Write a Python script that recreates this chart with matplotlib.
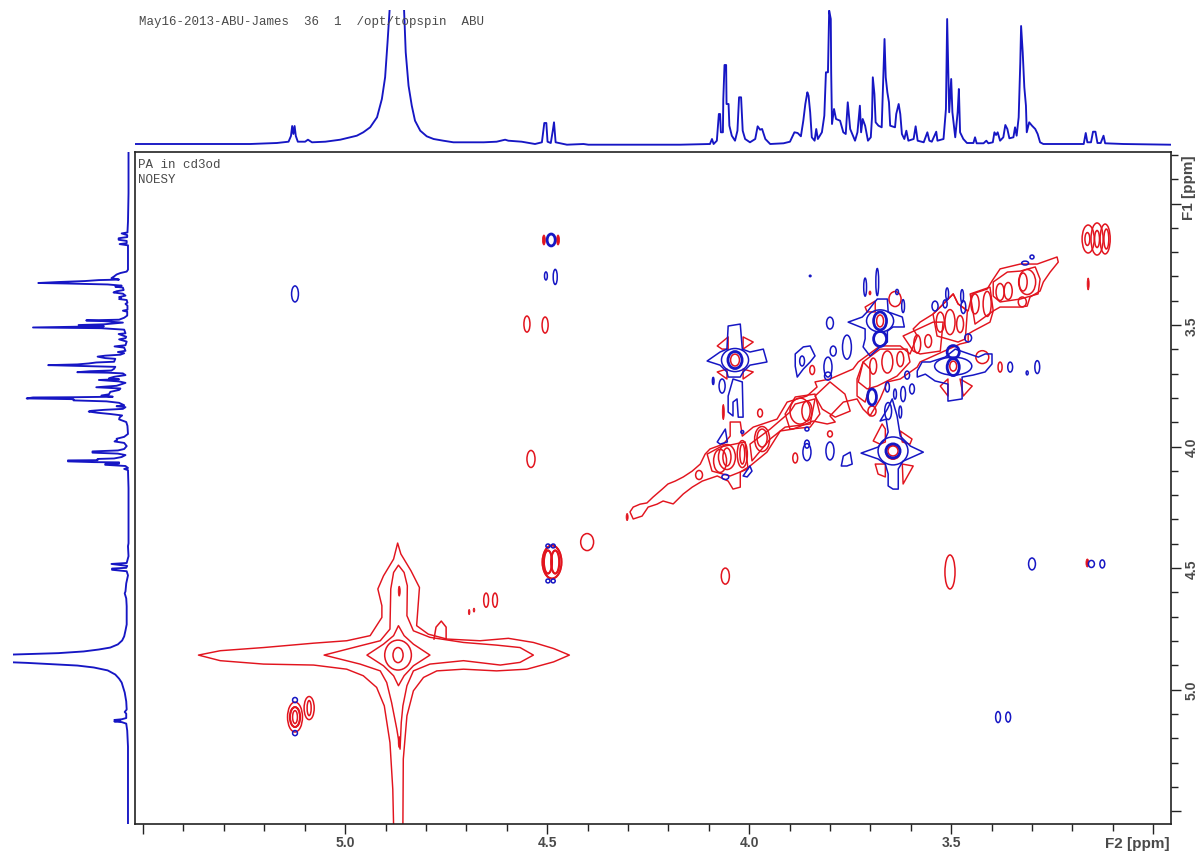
import matplotlib
matplotlib.use("Agg")
import matplotlib.pyplot as plt
from matplotlib.patches import Ellipse, Polygon
from matplotlib.ticker import FixedLocator

RED = "#e2141e"
BLUE = "#1616c4"
GREY = "#4a4a4a"

# ---- 1D projection (ppm, intensity) ----
spec_ppm = [5.56,5.520,5.235,5.169,5.140,5.134,5.131,5.128,5.125,5.122,5.117,5.099,5.092,5.082,5.049,5.012,4.971,4.955,4.938,4.921,4.909,4.901,4.895,4.890,4.870,4.854,4.850,4.843,4.835,4.827,4.814,4.798,4.781,4.757,4.732,4.657,4.625,4.604,4.596,4.563,4.530,4.513,4.507,4.502,4.499,4.491,4.486,4.483,4.479,4.451,4.410,4.398,4.245,
 4.171,4.097,4.092,4.088,4.080,4.075,4.072,4.070,4.065,4.064,4.061,4.057,4.056,4.051,4.049,4.043,4.035,4.029,4.025,4.020,4.016,4.010,3.998,3.985,3.979,3.973,3.968,3.960,3.948,3.915,3.899,3.888,3.880,3.872,3.866,3.861,3.856,3.853,3.849,3.845,3.838,3.834,3.830,3.820,3.814,3.810,3.805,3.802,3.798,3.797,3.795,3.790,3.785,3.775,3.767,3.761,3.756,3.750,3.738,3.732,3.726,3.723,3.719,3.713,3.706,3.699,3.696,3.694,3.690,3.687,3.680,3.672,3.668,3.665,3.662,3.658,3.654,3.651,3.639,3.636,3.630,3.626,3.622,3.616,3.611,3.606,3.593,3.588,3.583,3.568,3.559,3.554,3.548,3.537,3.534,3.519,3.513,3.510,3.505,3.500,3.497,3.490,3.484,3.481,3.478,3.470,3.461,3.445,3.441,3.437,3.420,3.413,3.408,3.397,3.393,3.389,3.385,3.379,3.371,3.366,3.361,3.356,3.346,3.342,3.338,3.333,3.329,3.327,3.323,3.319,3.315,3.313,3.307,3.300,3.292,3.286,3.280,3.272,3.172,3.167,3.163,3.154,3.149,3.143,3.138,3.130,3.123,3.119,3.074,2.958,2.78]
spec_int = [0,0,0,1,2.3,8,18,10,18,8,2.3,2.3,4.3,1.7,2.3,4.3,8.3,11.7,16.7,26.7,45,66.7,101.7,133.3,300,133.3,91.7,58.3,38.3,23.3,13.3,7.7,5,3.3,1.7,1.7,2.3,4.3,3.3,2.3,0,1.7,21,21,2.3,1,13.3,21.7,1.7,-0.7,0,-0.7,-0.7,
 -0.7,0,5,0,3.3,30,30,11.7,11.7,45,79,79,40,40,18.3,8.3,3.3,13.3,46.7,46.7,13.3,5,1.7,5,17.7,14.3,15,5,0,0.7,2.3,11.7,11,7.7,23.3,40,51.7,48.3,31.7,6.7,3.3,15,5,11.7,28.3,71.7,71.7,133.3,125,71.7,20,35,25,23.3,11.7,10,41.7,15,3.3,11.7,38.3,11.7,25,18.3,3.3,6.7,26.7,66.7,50,21.7,18.3,16.7,66.7,105,66.7,51.7,41.7,18.3,16.7,30,40,30,10,5,13.3,3.3,5,17.7,3.3,1.7,11.7,3.3,2.3,12.3,3.3,5,35,125,31.7,65,31.7,6.7,31.7,55,11.7,5,1,1,6.7,0.7,0.7,3.3,0.7,1.7,11.7,9,11.7,3.3,6.7,19,15,5.7,6.7,16.7,8.3,26.7,81.7,118,91.7,56.7,38.3,11.7,21.7,18.3,15,10,1.7,0,0,11,1.7,1.7,12.3,12.3,1,1,8.3,0.7,0,-0.7,-0.7]

# ---- red cross peaks: F2, F1, width, height (ppm) ----
red_f2 = [4.072,4.055,4.055,4.017,4.017,3.968,3.968,4.124,3.973,3.886,3.857,3.874,3.800,3.844,3.658,3.626,3.693,3.584,3.557,3.503,3.478,3.527,3.411,3.441,3.379,3.359,3.322,3.312,3.324,3.161,3.139,3.119,3.163,3.139,3.116,4.550,4.505,4.540,4.401,4.488,4.498,4.480,4.651,4.629,4.059,3.503,5.124,5.124,5.124,5.089,5.089,4.869,4.869,3.379,3.423,3.495,3.644,3.644,4.035,3.676,3.639,3.696]
red_f1 = [4.059,4.043,4.043,4.031,4.031,3.969,3.965,4.117,3.862,4.047,3.854,3.854,3.948,3.685,3.652,3.640,3.669,3.578,3.566,3.488,3.496,3.488,3.413,3.413,3.364,3.360,3.323,3.323,3.405,3.146,3.146,3.146,3.146,3.146,3.146,3.496,3.500,4.051,4.393,4.475,4.475,4.475,4.632,4.632,4.533,4.516,5.113,5.113,5.113,5.076,5.076,4.858,4.858,3.673,3.632,3.669,4.023,4.018,3.644,3.483,3.393,3.854]
red_w = [.032,.042,.020,.025,.012,.037,.025,.017,.012,.012,.025,.050,.012,.012,.027,.017,.017,.017,.017,.025,.017,.020,.020,.020,.020,.020,.020,.042,.020,.030,.030,.025,.012,.012,.012,.015,.015,.020,.032,.047,.020,.020,.012,.012,.020,.025,.037,.025,.012,.025,.010,.066,.025,.010,.032,.017,.035,.025,.022,.017,.030,.020]
red_h = [.095,.103,.074,.111,.082,.103,.074,.037,.033,.041,.082,.107,.025,.037,.091,.062,.066,.074,.053,.103,.070,.082,.103,.082,.070,.070,.074,.103,.041,.115,.132,.123,.053,.070,.082,.066,.066,.070,.070,.136,.095,.095,.058,.058,.066,.140,.123,.082,.053,.095,.062,.123,.062,.041,.053,.041,.058,.041,.049,.049,.062,.041]

# ---- strong red rings ----
strong_f2 = [5.124,4.498,4.480,4.488]
strong_f1 = [5.113,4.475,4.475,4.475]
strong_w = [.025,.020,.020,.047]
strong_h = [.082,.095,.095,.136]

# ---- small solid red marks ----
dot_f2 = [3.161,4.064,4.302,4.693,4.681,4.508,4.473,3.163,4.866,4.866,3.701]
dot_f1 = [3.331,3.858,4.290,4.681,4.673,3.150,3.150,4.479,4.595,5.216,3.368]
dot_w = [.005,.005,.005,.004,.004,.007,.007,.007,.005,.005,.005]
dot_h = [.049,.062,.029,.021,.016,.041,.041,.033,.041,.045,.016]

# ---- blue cross peaks ----
blue_f2 = [5.124,4.503,4.480,4.498,4.485,4.498,4.485,5.124,5.124,3.384,3.359,3.300,3.153,3.126,3.317,3.300,3.354,3.287,3.312,3.510,3.473,3.540,3.515,3.470,3.458,3.683,3.713,3.634,3.619,3.800,3.849,3.869,3.805,3.805,3.758,3.792,3.639,3.619,3.597,3.658,3.609,3.656,3.626,3.857,3.857,3.800,3.857,4.067,4.089,4.059,4.017,4.035,3.644,3.676,3.495]
blue_f1 = [3.372,3.298,3.302,4.409,4.409,4.553,4.553,5.043,5.179,5.113,5.113,4.483,4.483,4.483,3.245,3.220,3.673,3.673,3.697,3.372,3.381,3.422,3.413,3.426,3.553,3.323,3.344,3.364,3.422,3.492,3.298,3.648,3.673,3.710,3.591,3.607,3.784,3.784,3.763,3.755,3.706,3.854,3.858,3.990,4.023,4.018,3.928,3.751,3.730,4.125,3.940,3.644,4.018,3.483,3.669]
blue_w = [.017,.007,.010,.010,.010,.010,.010,.012,.012,.012,.012,.017,.015,.012,.017,.010,.012,.012,.005,.007,.007,.015,.010,.012,.017,.007,.007,.007,.007,.017,.004,.012,.020,.017,.022,.015,.007,.012,.012,.010,.012,.017,.007,.012,.020,.020,.010,.015,.004,.017,.007,.067,.074,.067,.092]
blue_h = [.066,.033,.062,.016,.016,.016,.016,.021,.021,.045,.041,.049,.029,.033,.016,.016,.041,.053,.016,.049,.053,.041,.033,.053,.033,.111,.074,.021,.053,.049,.006,.041,.082,.033,.099,.041,.041,.062,.041,.041,.033,.070,.049,.033,.070,.074,.016,.058,.029,.021,.012,.095,.115,.091,.074]

# ---- strong blue rings ----
ring_f2 = [4.490,4.035,3.644,3.676,3.676,3.495,3.495,3.696]
ring_f1 = [3.150,3.644,4.018,3.557,3.483,3.673,3.611,3.796]
ring_w = [.020,.035,.035,.032,.032,.030,.030,.022]
ring_h = [.049,.070,.058,.062,.074,.070,.053,.066]

# ---- traced red contours ----
water1_f2 = [4.870,4.862,4.837,4.816,4.819,4.823,4.794,4.748,4.666,4.596,4.534,4.484,4.445,4.484,4.550,4.625,4.707,4.773,4.806,4.831,4.847,4.856,4.857,4.880,4.882,4.889,4.903,4.922,4.955,4.996,5.078,5.202,5.309,5.363,5.309,5.202,5.078,4.996,4.938,4.909,4.909,4.919,4.905,4.880]
water1_f1 = [4.397,4.442,4.511,4.580,4.648,4.737,4.772,4.792,4.799,4.789,4.806,4.831,4.858,4.886,4.916,4.923,4.916,4.923,4.950,5.005,5.108,5.286,5.560,5.560,5.410,5.218,5.067,4.991,4.943,4.916,4.899,4.895,4.881,4.858,4.840,4.827,4.809,4.799,4.778,4.703,4.655,4.586,4.532,4.463]
water2_f2 = [4.868,4.854,4.846,4.847,4.831,4.790,4.707,4.625,4.567,4.534,4.567,4.616,4.707,4.790,4.831,4.847,4.857,4.861,4.864,4.872,4.885,4.897,4.913,4.963,5.052,4.963,4.913,4.889,4.887,4.880]
water2_f1 = [4.488,4.518,4.573,4.696,4.758,4.785,4.806,4.817,4.827,4.858,4.888,4.899,4.881,4.895,4.923,4.984,5.067,5.135,5.245,5.163,5.053,4.971,4.923,4.895,4.858,4.820,4.799,4.751,4.586,4.518]
water3_f2 = [4.868,4.854,4.831,4.790,4.831,4.854,4.868,4.880,4.905,4.946,4.905,4.880]
water3_f1 = [4.737,4.778,4.813,4.858,4.902,4.943,4.984,4.943,4.902,4.858,4.813,4.778]
bump_f2 = [4.780,4.775,4.762,4.750,4.750]
bump_f1 = [4.792,4.743,4.718,4.743,4.792]
diag_f2 = [4.295,4.287,4.270,4.253,4.238,4.215,4.201,4.183,4.163,4.141,4.121,4.109,4.097,4.064,4.047,4.047,4.022,4.017,3.990,3.931,3.906,3.857,3.832,3.837,3.800,3.743,3.730,3.676,3.626,3.602,3.584,3.594,3.577,3.545,3.527,3.495,3.483,3.458,3.448,3.411,3.399,3.379,3.329,3.287,3.238,3.235,3.255,3.272,3.280,3.305,3.312,3.329,3.379,3.396,3.404,3.446,3.458,3.458,3.478,3.577,3.584,3.626,3.658,3.676,3.701,3.718,3.733,3.767,3.800,3.787,3.807,3.842,3.891,3.923,3.956,3.998,4.022,4.022,4.040,4.052,4.079,4.116,4.141,4.163,4.188,4.213,4.228,4.250,4.265,4.287]
diag_f1 = [4.269,4.249,4.237,4.232,4.208,4.175,4.154,4.142,4.125,4.101,4.072,4.031,4.010,3.990,3.957,3.899,3.899,3.957,3.920,3.887,3.817,3.792,3.755,3.734,3.722,3.681,3.652,3.586,3.586,3.619,3.545,3.516,3.488,3.455,3.426,3.372,3.413,3.442,3.372,3.352,3.319,3.269,3.249,3.249,3.220,3.241,3.282,3.323,3.360,3.385,3.422,3.426,3.426,3.442,3.488,3.525,3.537,3.570,3.578,3.652,3.673,3.722,3.734,3.804,3.874,3.846,3.804,3.817,3.874,3.899,3.907,3.895,3.928,3.936,4.023,4.080,4.105,4.167,4.175,4.142,4.121,4.142,4.167,4.195,4.236,4.224,4.237,4.249,4.286,4.298]
inner_f2 = [3.998,3.948,3.899,3.886,3.837,3.849,3.911,3.948,3.993]
inner_f1 = [3.990,3.928,3.858,3.825,3.804,3.907,3.920,3.969,4.059]
boxa_f2 = [4.104,4.072,4.010,4.003,4.047,4.092]
boxa_f1 = [4.031,4.002,3.981,4.092,4.121,4.101]
boxb_f2 = [3.718,3.676,3.609,3.602,3.634,3.683,3.708,3.730]
boxb_f1 = [3.652,3.599,3.599,3.652,3.710,3.751,3.763,3.734]
boxc_f2 = [3.718,3.733,3.733,3.713,3.701,3.701]
boxc_f1 = [3.652,3.722,3.792,3.817,3.751,3.681]
boxd_f2 = [3.619,3.545,3.520,3.527,3.577,3.594]
boxd_f1 = [3.545,3.488,3.488,3.607,3.619,3.607]
boxe_f2 = [3.545,3.527,3.495,3.483,3.460,3.465,3.483,3.510,3.535]
boxe_f1 = [3.455,3.426,3.372,3.413,3.442,3.557,3.570,3.557,3.545]
boxf_f2 = [3.396,3.361,3.329,3.292,3.280,3.285,3.329,3.379,3.396]
boxf_f1 = [3.323,3.282,3.278,3.261,3.311,3.372,3.393,3.405,3.381]
boxg_f2 = [3.911,3.886,3.837,3.825,3.849,3.899]
boxg_f1 = [3.866,3.796,3.784,3.866,3.920,3.928]
boxh_f2 = [3.837,3.800,3.763,3.750,3.787,3.819]
boxh_f1 = [3.792,3.734,3.784,3.854,3.879,3.846]
boxi_f2 = [3.453,3.404,3.396,3.441]
boxi_f1 = [3.372,3.344,3.442,3.496]
lobe1_f2 = [3.693,3.671,3.663,3.663,3.676]
lobe1_f1 = [3.977,3.907,3.928,3.981,3.990]
lobe2_f2 = [3.626,3.597,3.602,3.621]
lobe2_f1 = [3.936,3.969,3.990,3.981]
lobe3_f2 = [3.688,3.663,3.663,3.681]
lobe3_f1 = [4.072,4.072,4.125,4.113]
lobe4_f2 = [3.621,3.594,3.619]
lobe4_f1 = [4.072,4.080,4.154]
lobe5_f2 = [4.079,4.052,4.052,4.067]
lobe5_f1 = [3.586,3.549,3.599,3.599]
lobe6_f2 = [4.015,3.990,4.015]
lobe6_f1 = [3.549,3.570,3.599]
lobe7_f2 = [4.079,4.055,4.055]
lobe7_f1 = [3.693,3.681,3.722]
lobe8_f2 = [4.015,3.990,4.015]
lobe8_f1 = [3.681,3.693,3.722]
lobe9_f2 = [3.713,3.688,3.688,3.708]
lobe9_f1 = [3.426,3.401,3.446,3.446]
lobe10_f2 = [3.527,3.508,3.508]
lobe10_f1 = [3.751,3.722,3.792]
lobe11_f2 = [3.478,3.448,3.470]
lobe11_f1 = [3.722,3.751,3.792]

# ---- traced blue contours ----
star1_f2 = [3.723,3.681,3.663,3.656,3.661,3.676,3.658,3.646,3.634,3.626,3.619,3.601,3.569,3.596,3.619,3.631,3.631,3.644,3.656,3.656,3.663,3.681]
star1_f1 = [4.027,4.002,3.969,3.940,3.887,3.895,3.846,3.804,3.874,3.957,3.969,3.998,4.023,4.043,4.060,4.092,4.175,4.175,4.162,4.113,4.072,4.051]
star2_f2 = [4.104,4.072,4.055,4.052,4.022,4.017,3.998,3.965,3.956,3.998,4.015,4.022,4.052,4.055,4.072]
star2_f1 = [3.648,3.611,3.599,3.504,3.496,3.599,3.611,3.599,3.652,3.665,3.693,3.714,3.714,3.693,3.665]
arm2_f2 = [4.040,4.017,4.015,4.027,4.030,4.040,4.040,4.052,4.052,4.042]
arm2_f1 = [3.722,3.734,3.879,3.879,3.804,3.817,3.874,3.858,3.792,3.734]
star3_f2 = [3.755,3.720,3.708,3.693,3.683,3.658,3.656,3.621,3.616,3.644,3.658,3.658,3.676,3.701,3.718,3.713,3.713]
star3_f1 = [3.488,3.467,3.446,3.413,3.393,3.393,3.446,3.467,3.508,3.508,3.525,3.570,3.590,3.627,3.590,3.557,3.516]
star4_f2 = [3.584,3.572,3.552,3.515,3.490,3.433,3.416,3.399,3.399,3.416,3.446,3.473,3.473,3.508,3.508,3.540,3.564,3.584]
star4_f1 = [3.689,3.652,3.652,3.632,3.599,3.632,3.619,3.619,3.660,3.693,3.706,3.714,3.804,3.813,3.743,3.730,3.702,3.714]
tilt1_f2 = [4.079,4.059,4.054,4.072]
tilt1_f1 = [3.981,3.928,3.981,3.990]
tilt2_f2 = [4.015,3.998,3.993,4.005]
tilt2_f1 = [4.121,4.080,4.101,4.125]
blob1_f2 = [3.886,3.866,3.849,3.837,3.849,3.866,3.881,3.886]
blob1_f1 = [3.619,3.590,3.586,3.627,3.652,3.681,3.714,3.669]
blob2_f2 = [3.772,3.767,3.750,3.745,3.758]
blob2_f1 = [4.080,4.039,4.023,4.072,4.080]

red_traces = [(water1_f2,water1_f1),(water2_f2,water2_f1),(water3_f2,water3_f1),(diag_f2,diag_f1),(inner_f2,inner_f1),
              (boxa_f2,boxa_f1),(boxb_f2,boxb_f1),(boxc_f2,boxc_f1),(boxd_f2,boxd_f1),(boxe_f2,boxe_f1),
              (boxf_f2,boxf_f1),(boxg_f2,boxg_f1),(boxh_f2,boxh_f1),(boxi_f2,boxi_f1),
              (lobe1_f2,lobe1_f1),(lobe2_f2,lobe2_f1),(lobe3_f2,lobe3_f1),(lobe4_f2,lobe4_f1),
              (lobe5_f2,lobe5_f1),(lobe6_f2,lobe6_f1),(lobe7_f2,lobe7_f1),(lobe8_f2,lobe8_f1),
              (lobe9_f2,lobe9_f1),(lobe10_f2,lobe10_f1),(lobe11_f2,lobe11_f1)]
blue_traces = [(star1_f2,star1_f1),(star2_f2,star2_f1),(arm2_f2,arm2_f1),(star3_f2,star3_f1),(star4_f2,star4_f1),
               (tilt1_f2,tilt1_f1),(tilt2_f2,tilt2_f1),(blob1_f2,blob1_f1),(blob2_f2,blob2_f1)]

major_ticks = [5.5, 5.0, 4.5, 4.0, 3.5, 3.0]
major_labels = ["", "5.0", "4.5", "4.0", "3.5", ""]
minor_ticks = [5.4,5.3,5.2,5.1,4.9,4.8,4.7,4.6,4.4,4.3,4.2,4.1,3.9,3.8,3.7,3.6,3.4,3.3,3.2,3.1]
minor_ticks_f1 = [2.8,2.9,3.1,3.2,3.3,3.4,3.6,3.7,3.8,3.9,4.1,4.2,4.3,4.4,4.6,4.7,4.8,4.9,5.1,5.2,5.3,5.4]

W, H = 1200, 853
fig = plt.figure(figsize=(W/100, H/100), dpi=100, facecolor="white")
ax = fig.add_axes([135/W, 1-825/H, 1036/W, 672/H])
ax.set_xlim(5.520, 2.956)
ax.set_ylim(5.553, 2.788)

ax.plot(bump_f2, bump_f1, color=RED, lw=1.1)
for t in red_traces:
    ax.add_patch(Polygon(list(zip(*t)), closed=True, fill=False, ec=RED, lw=1.05, joinstyle="round"))
for x, y, w, h in zip(red_f2, red_f1, red_w, red_h):
    ax.add_patch(Ellipse((x, y), w, h, fill=False, ec=RED, lw=1.1))
for x, y, w, h in zip(strong_f2, strong_f1, strong_w, strong_h):
    ax.add_patch(Ellipse((x, y), w, h, fill=False, ec=RED, lw=1.5))
for x, y, w, h in zip(dot_f2, dot_f1, dot_w, dot_h):
    ax.add_patch(Ellipse((x, y), w, h, fc=RED, ec=RED, lw=0.6))
for t in blue_traces:
    ax.add_patch(Polygon(list(zip(*t)), closed=True, fill=False, ec=BLUE, lw=1.1, joinstyle="round"))
for x, y, w, h in zip(blue_f2, blue_f1, blue_w, blue_h):
    ax.add_patch(Ellipse((x, y), w, h, fill=False, ec=BLUE, lw=1.1))
for x, y, w, h in zip(ring_f2, ring_f1, ring_w, ring_h):
    ax.add_patch(Ellipse((x, y), w, h, fill=False, ec=BLUE, lw=2.0))

ax.yaxis.tick_right()
ax.xaxis.set_major_locator(FixedLocator(major_ticks))
ax.xaxis.set_minor_locator(FixedLocator(minor_ticks))
ax.yaxis.set_major_locator(FixedLocator([3.0, 3.5, 4.0, 4.5, 5.0, 5.5]))
ax.yaxis.set_minor_locator(FixedLocator(minor_ticks_f1))
ax.set_xticklabels(major_labels)
ax.set_yticklabels(["", "3.5", "4.0", "4.5", "5.0", ""], rotation=90, va="center")
ax.tick_params(which="major", length=7, width=1.0, color="#222222", labelcolor=GREY, labelsize=10)
ax.tick_params(axis="x", which="major", pad=1)
ax.tick_params(axis="y", which="major", pad=3)
ax.tick_params(which="minor", length=5, width=1.0, color="#222222")
for lab in ax.get_xticklabels() + ax.get_yticklabels():
    lab.set_fontweight("bold")
    lab.set_family("Liberation Sans")
for s in ax.spines.values():
    s.set_linewidth(1.2)
    s.set_color("#222222")

# 1D traces share the same arrays
top = fig.add_axes([135/W, 1-150/H, 1036/W, 139/H])
top.set_xlim(5.520, 2.956)
top.set_ylim(-5, 134)
top.plot(spec_ppm, spec_int, color=BLUE, lw=1.35)
top.axis("off")

left = fig.add_axes([13/W, 1-825/H, 120/W, 672/H])
left.set_ylim(5.553, 2.788)
left.set_xlim(151.3, -6.6)
left.plot(spec_int, spec_ppm, color=BLUE, lw=1.35)
left.axis("off")

fig.text(139/W, 1-22/H, "May16-2013-ABU-James  36  1  /opt/topspin  ABU", family="Liberation Mono",
         fontsize=9, color=GREY, va="center", ha="left")
fig.text(138/W, 1-165/H, "PA in cd3od", family="Liberation Mono", fontsize=9, color=GREY, va="center", ha="left")
fig.text(138/W, 1-180/H, "NOESY", family="Liberation Mono", fontsize=9, color=GREY, va="center", ha="left")
fig.text(1189/W, 1-188/H, "F1 [ppm]", rotation=90, family="Liberation Sans", fontweight="bold", fontsize=11,
         color=GREY, va="center", ha="center")
fig.text(1137/W, 1-844/H, "F2 [ppm]", family="Liberation Sans", fontweight="bold", fontsize=11,
         color=GREY, va="center", ha="center")

fig.savefig("out.png", dpi=100, facecolor="white")
